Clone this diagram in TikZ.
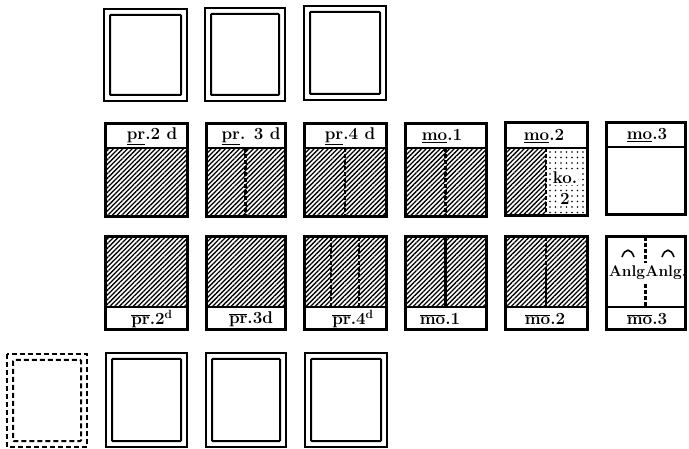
\documentclass[tikz,border=0pt]{standalone}
\usetikzlibrary{patterns.meta}
\begin{document}
\begin{tikzpicture}[x=1pt,y=-1pt,
 frame/.style={line width=3pt},
 divider/.style={line width=2pt},
 hatch/.style={pattern={Lines[angle=45,distance=3.3pt,line width=1.3pt]}},
 dotfill/.style={pattern={Dots[radius=0.9pt,distance=5.5pt]}},
 seam/.style={line width=2.2pt,dash pattern=on 4pt off 2pt},
 outerline/.style={line width=1.8pt},
 innerline/.style={line width=2pt,rounded corners=0.8pt},
 lbl/.style={font=\fontsize{17}{17}\selectfont\bfseries, inner sep=0pt},
 note/.style={font=\fontsize{15.5}{15.5}\selectfont\bfseries, inner sep=0pt}]
\useasboundingbox (0,0) rectangle (689,449);

% ---- top row of double frames
\draw[outerline] (104,9) rectangle (187,101);
\draw[innerline] (110,15) rectangle (181,95);
\draw[outerline] (205,8) rectangle (285,101);
\draw[innerline] (211,14) rectangle (279,95);
\draw[outerline] (304,6) rectangle (386,100);
\draw[innerline] (310,12) rectangle (380,94);

% ---- bottom row of double frames
\draw[outerline,dash pattern=on 5pt off 3pt] (7,354) rectangle (87,447);
\draw[innerline,dash pattern=on 5pt off 3pt] (13,360) rectangle (81,441);
\draw[outerline] (106,353) rectangle (187,447);
\draw[innerline] (112,359) rectangle (181,441);
\draw[outerline] (206,353) rectangle (286,447);
\draw[innerline] (212,359) rectangle (280,441);
\draw[outerline] (305,353) rectangle (387,447);
\draw[innerline] (311,359) rectangle (381,441);

% ---- second row (label on top)
% pr.2d
\fill[hatch] (105,148) rectangle (187,217);
\draw[divider] (105,148) -- (187,148);
\draw[frame] (105,124) rectangle (187,217);
\node[lbl] (a1) at (152,136) {\underline{pr}.2 d};
% pr.3d
\fill[hatch] (206,148) rectangle (285,217);
\draw[seam] (245.5,148) -- (245.5,217);
\draw[divider] (206,148) -- (285,148);
\draw[frame] (206,124) rectangle (285,217);
\node[lbl] (a2) at (251,136) {\underline{pr}. 3 d};
% pr.4d
\fill[hatch] (304,148) rectangle (386,217);
\draw[seam] (345,148) -- (345,217);
\draw[divider] (304,148) -- (386,148);
\draw[frame] (304,124) rectangle (386,217);
\node[lbl] (a3) at (350,136) {\underline{pr}.4 d};
% mo.1
\fill[hatch] (405,148) rectangle (486,217);
\draw[seam] (445.5,148) -- (445.5,217);
\draw[divider] (405,148) -- (486,148);
\draw[frame] (405,124) rectangle (486,217);
\node[lbl] (a4) at (442,136) {\underline{mo}.1};
% mo.2
\fill[hatch] (505,148) rectangle (546,216);
\fill[dotfill] (546,148) rectangle (587,216);
\draw[seam] (546,148) -- (546,216);
\draw[divider] (505,148) -- (587,148);
\draw[frame] (505,123) rectangle (587,216);
\node[lbl] (a5) at (544,136) {\underline{mo}.2};
\node[lbl,fill=white,inner sep=1pt] (k1) at (565,178) {ko.};
\node[lbl,fill=white,inner sep=1pt] (k2) at (565,199) {2};
% mo.3
\draw[divider] (606,147) -- (685,147);
\draw[frame] (606,123) rectangle (685,215);
\node[lbl] (a6) at (647,135) {\underline{mo}.3};

% ---- third row (label at bottom)
% pr.2d
\fill[hatch] (105,237) rectangle (187,307);
\draw[divider] (105,307) -- (187,307);
\draw[frame] (105,237) rectangle (187,330);
\node[lbl] (b1) at (152,319) {$\overline{\mbox{\bfseries pr}}$.2\textsuperscript{d}};
% pr.3d
\fill[hatch] (206,237) rectangle (285,307);
\draw[divider] (206,307) -- (285,307);
\draw[frame] (206,237) rectangle (285,330);
\node[lbl] (b2) at (251,319) {$\overline{\mbox{\bfseries pr}}$.3d};
% pr.4d
\fill[hatch] (304,237) rectangle (386,307);
\draw[seam] (331,237) -- (331,307);
\draw[seam] (359,237) -- (359,307);
\draw[divider] (304,307) -- (386,307);
\draw[frame] (304,237) rectangle (386,330);
\node[lbl] (b3) at (353,319) {$\overline{\mbox{\bfseries pr}}$.4\textsuperscript{d}};
% mo.1
\fill[hatch] (405,237) rectangle (486,307);
\draw[line width=2.2pt] (445.5,237) -- (445.5,307);
\draw[divider] (405,307) -- (486,307);
\draw[frame] (405,237) rectangle (486,330);
\node[lbl] (b4) at (440,319) {$\overline{\mbox{\bfseries mo}}$.1};
% mo.2
\fill[hatch] (505,237) rectangle (587,307);
\draw[seam] (546,237) -- (546,270);
\draw[line width=2.2pt] (546,270) -- (546,307);
\draw[divider] (505,307) -- (587,307);
\draw[frame] (505,237) rectangle (587,330);
\node[lbl] (b5) at (545,319) {$\overline{\mbox{\bfseries mo}}$.2};
% mo.3
\draw[seam] (645.5,237) -- (645.5,263);
\draw[seam] (645.5,284) -- (645.5,307);
\draw[line width=1.6pt] (622,257) .. controls (625,248) and (631,248) .. (634,257);
\draw[line width=1.6pt] (662,257) .. controls (665,248) and (671,248) .. (674,257);
\node[note] (n1) at (627,273) {Anlg};
\node[note] (n2) at (666,273) {Anlg.};
\draw[divider] (606,307) -- (685,307);
\draw[frame] (606,237) rectangle (685,330);
\node[lbl] (b6) at (647,319) {$\overline{\mbox{\bfseries mo}}$.3};
\end{tikzpicture}
\end{document}
